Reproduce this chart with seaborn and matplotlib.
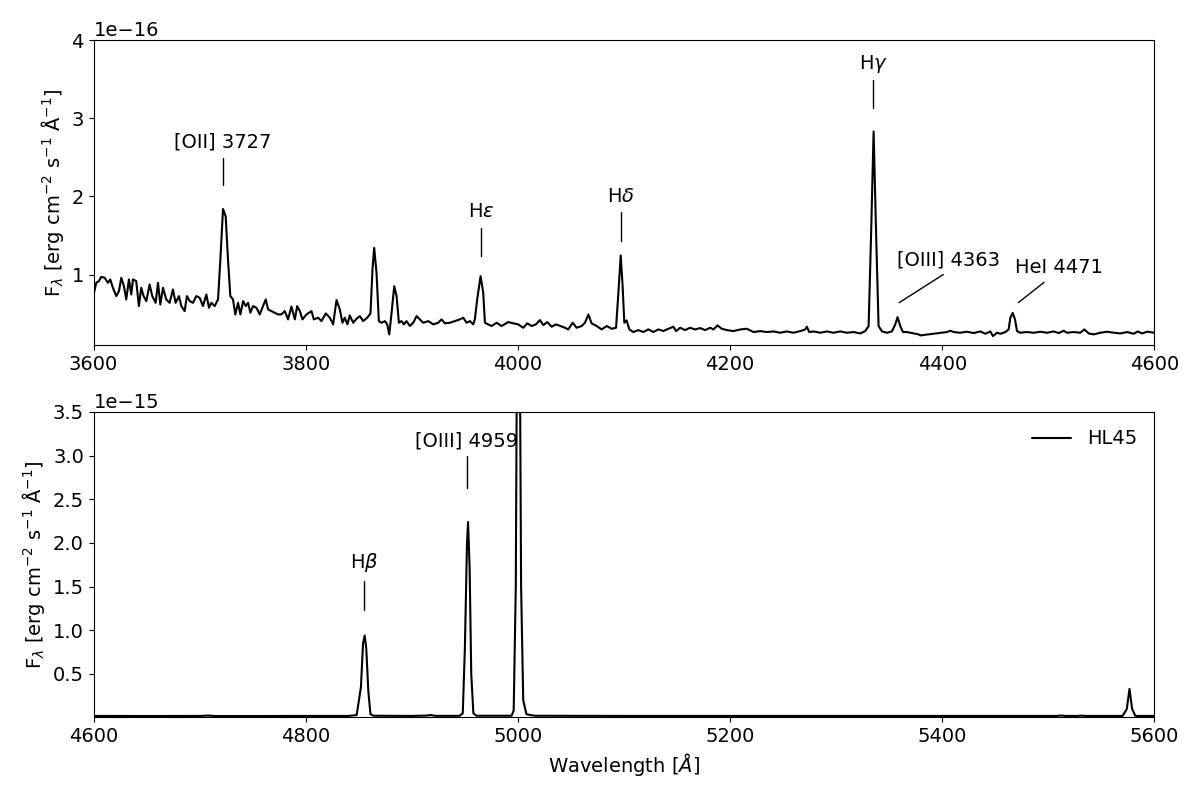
import numpy as np
import pandas as pd
import matplotlib
matplotlib.use("Agg")
import matplotlib.pyplot as plt
import seaborn as sns

# ---------------- data ----------------
# Blue part: wavelength [Angstrom], flux [1e-16 erg cm^-2 s^-1 A^-1]
wave_blue = [
    3600.0, 3602.5, 3605.0, 3607.2, 3610.4, 3613.5, 3615.7, 3618.2, 3621.4, 3623.9,
    3626.1, 3628.6, 3630.8, 3633.3, 3635.5, 3637.1, 3640.2, 3642.7, 3644.9, 3647.1,
    3649.7, 3652.8, 3655.3, 3658.5, 3660.7, 3662.9, 3665.4, 3668.5, 3671.7, 3674.8,
    3677.3, 3680.5, 3682.7, 3685.8, 3688.0, 3690.6, 3693.7, 3696.8, 3700.0, 3703.1,
    3706.3, 3708.8, 3711.0, 3714.1, 3717.3, 3719.5, 3722.0, 3724.5, 3726.7, 3728.9,
    3731.4, 3733.6, 3736.2, 3738.4, 3740.9, 3743.4, 3745.6, 3747.8, 3750.3, 3753.5,
    3756.6, 3759.7, 3762.3, 3764.5, 3767.6, 3770.8, 3773.9, 3777.0, 3780.2, 3783.3,
    3786.5, 3789.7, 3791.9, 3794.4, 3796.9, 3800.7, 3805.4, 3807.6, 3811.7, 3814.8,
    3818.9, 3822.7, 3825.8, 3829.0, 3832.1, 3834.6, 3836.8, 3839.3, 3841.5, 3844.7,
    3847.8, 3851.0, 3854.1, 3857.9, 3861.0, 3862.9, 3864.5, 3866.7, 3868.9, 3871.4,
    3874.6, 3876.8, 3878.7, 3880.9, 3883.4, 3885.6, 3887.8, 3890.3, 3892.5, 3895.0,
    3898.2, 3901.3, 3904.5, 3907.6, 3910.7, 3915.5, 3920.2, 3924.9, 3928.0, 3931.2,
    3935.9, 3940.6, 3945.3, 3948.5, 3951.6, 3954.8, 3957.9, 3959.4, 3961.6, 3964.8,
    3967.3, 3968.9, 3972.0, 3975.1, 3979.9, 3984.6, 3990.9, 3995.6, 4000.3, 4005.0,
    4008.8, 4012.9, 4017.0, 4020.7, 4023.9, 4027.7, 4031.8, 4035.8, 4040.2, 4044.3,
    4047.5, 4051.6, 4055.3, 4060.1, 4063.2, 4066.4, 4069.5, 4074.2, 4078.9, 4083.7,
    4088.4, 4092.5, 4094.7, 4096.9, 4098.7, 4100.3, 4102.5, 4105.0, 4108.8, 4113.5,
    4118.2, 4123.0, 4127.7, 4132.4, 4137.1, 4140.3, 4146.6, 4149.1, 4152.9, 4157.6,
    4162.3, 4167.0, 4171.7, 4176.5, 4181.2, 4184.3, 4188.1, 4192.2, 4196.9, 4203.2,
    4209.5, 4215.8, 4222.1, 4228.4, 4234.6, 4240.9, 4247.2, 4253.5, 4259.8, 4266.1,
    4270.8, 4272.4, 4274.6, 4278.7, 4285.0, 4291.3, 4297.5, 4303.8, 4310.1, 4316.4,
    4322.7, 4327.4, 4330.6, 4332.8, 4335.3, 4337.8, 4340.0, 4343.2, 4347.9, 4352.6,
    4355.7, 4357.9, 4360.4, 4363.0, 4366.7, 4373.0, 4377.7, 4379.3, 4404.4, 4407.6,
    4410.7, 4417.0, 4423.3, 4429.6, 4435.9, 4440.6, 4445.3, 4447.8, 4451.6, 4454.8,
    4459.5, 4462.6, 4464.2, 4466.4, 4468.6, 4470.5, 4473.6, 4479.9, 4486.2, 4492.5,
    4498.8, 4505.1, 4509.8, 4514.5, 4517.6, 4523.9, 4530.2, 4534.0, 4538.1, 4542.8,
    4549.1, 4555.4, 4561.7, 4568.0, 4574.3, 4580.5, 4584.3, 4588.4, 4593.1, 4600.0,
]
flux_blue = [
    0.745, 0.894, 0.915, 0.970, 0.958, 0.894, 0.937, 0.830, 0.724, 0.788,
    0.958, 0.851, 0.681, 0.937, 0.745, 0.937, 0.915, 0.596, 0.830, 0.724,
    0.660, 0.873, 0.724, 0.638, 0.894, 0.617, 0.830, 0.681, 0.638, 0.809,
    0.638, 0.724, 0.596, 0.532, 0.724, 0.660, 0.638, 0.724, 0.702, 0.596,
    0.745, 0.575, 0.638, 0.596, 0.681, 1.192, 1.839, 1.745, 1.192, 0.724,
    0.681, 0.489, 0.638, 0.489, 0.660, 0.596, 0.638, 0.511, 0.596, 0.575,
    0.489, 0.596, 0.681, 0.553, 0.532, 0.511, 0.489, 0.489, 0.532, 0.426,
    0.590, 0.426, 0.596, 0.532, 0.426, 0.489, 0.532, 0.426, 0.447, 0.404,
    0.502, 0.447, 0.362, 0.673, 0.553, 0.383, 0.447, 0.362, 0.477, 0.383,
    0.434, 0.468, 0.404, 0.447, 0.502, 1.064, 1.341, 1.022, 0.404, 0.383,
    0.404, 0.362, 0.234, 0.511, 0.851, 0.724, 0.383, 0.404, 0.362, 0.404,
    0.341, 0.383, 0.468, 0.426, 0.383, 0.404, 0.362, 0.383, 0.426, 0.375,
    0.383, 0.404, 0.426, 0.447, 0.383, 0.404, 0.362, 0.426, 0.681, 0.979,
    0.766, 0.383, 0.362, 0.341, 0.383, 0.341, 0.392, 0.375, 0.362, 0.319,
    0.375, 0.341, 0.362, 0.417, 0.353, 0.392, 0.332, 0.362, 0.341, 0.319,
    0.298, 0.383, 0.319, 0.341, 0.383, 0.489, 0.375, 0.341, 0.298, 0.341,
    0.306, 0.319, 0.766, 1.243, 0.851, 0.383, 0.413, 0.298, 0.264, 0.289,
    0.264, 0.298, 0.264, 0.298, 0.277, 0.297, 0.332, 0.276, 0.319, 0.289,
    0.319, 0.297, 0.315, 0.289, 0.319, 0.297, 0.349, 0.306, 0.289, 0.276,
    0.297, 0.306, 0.264, 0.276, 0.264, 0.272, 0.255, 0.272, 0.255, 0.276,
    0.297, 0.332, 0.264, 0.272, 0.255, 0.272, 0.255, 0.272, 0.255, 0.264,
    0.246, 0.276, 0.340, 1.447, 2.830, 1.447, 0.340, 0.272, 0.255, 0.272,
    0.361, 0.455, 0.340, 0.264, 0.264, 0.246, 0.234, 0.221, 0.264, 0.281,
    0.264, 0.255, 0.268, 0.251, 0.272, 0.242, 0.272, 0.212, 0.255, 0.242,
    0.264, 0.298, 0.447, 0.510, 0.425, 0.276, 0.255, 0.264, 0.255, 0.268,
    0.255, 0.272, 0.251, 0.281, 0.255, 0.264, 0.255, 0.298, 0.246, 0.234,
    0.255, 0.268, 0.255, 0.246, 0.264, 0.242, 0.272, 0.246, 0.268, 0.255,
]

# Red part: wavelength [Angstrom], flux [1e-15 erg cm^-2 s^-1 A^-1]
wave_red = [
    4600, 4650, 4700, 4708, 4715, 4760, 4800, 4840, 4848, 4852,
    4854, 4855.5, 4857, 4859, 4861, 4864, 4900, 4914, 4918, 4922,
    4945, 4948, 4950, 4952, 4953, 4954.5, 4956, 4958, 4961, 4994,
    4996, 4998, 5000, 5001.5, 5003, 5005, 5008, 5010, 5012, 5016,
    5100, 5200, 5300, 5400, 5508, 5512, 5516, 5528, 5531, 5535,
    5570, 5574, 5576.5, 5579, 5582, 5600,
]
flux_red = [
    0.020, 0.019, 0.020, 0.024, 0.019, 0.019, 0.020, 0.020, 0.030, 0.350,
    0.850, 0.940, 0.800, 0.300, 0.040, 0.022, 0.020, 0.024, 0.030, 0.021,
    0.021, 0.050, 0.800, 2.000, 2.240, 1.700, 0.500, 0.050, 0.022, 0.022,
    0.080, 1.500, 6.700, 5.000, 1.500, 0.200, 0.040, 0.035, 0.030, 0.022,
    0.020, 0.020, 0.020, 0.020, 0.020, 0.025, 0.020, 0.020, 0.024, 0.020,
    0.020, 0.100, 0.330, 0.100, 0.020, 0.020,
]

# line labels: (label, wavelength, text y, line bottom, line top) in panel units
blue_labels = [
    ("[OII] 3727", 3722, 2.69, 2.14, 2.49),
    (r"H$\epsilon$", 3965, 1.80, 1.24, 1.60),
    (r"H$\delta$", 4097, 2.00, 1.43, 1.80),
    (r"H$\gamma$", 4335, 3.69, 3.13, 3.49),
]
blue_diag_labels = [
    ("[OIII] 4363", 4359.4, 0.64, 4401, 1.0, 4357, 1.19),
    ("HeI 4471", 4471.7, 0.64, 4496, 0.9, 4469, 1.09),
]
red_labels = [
    (r"H$\beta$", 4855, 1.78, 1.23, 1.56),
    ("[OIII] 4959", 4952, 3.17, 2.63, 2.99),
]

# ---------------- plotting ----------------
sns.set_style("ticks")
FS = 14
plt.rcParams["font.family"] = ["DejaVu Sans"]
plt.rcParams["font.size"] = FS
plt.rcParams["mathtext.fontset"] = "dejavusans"
for key in ("text.color", "axes.labelcolor", "xtick.color", "ytick.color", "axes.edgecolor"):
    plt.rcParams[key] = "black"

df_blue = pd.DataFrame({"wave": wave_blue, "flux": np.array(flux_blue) * 1e-16})
df_red = pd.DataFrame({"wave": wave_red, "flux": np.array(flux_red) * 1e-15})

fig, (ax1, ax2) = plt.subplots(2, 1, figsize=(12, 8), dpi=100)
fig.subplots_adjust(left=0.078, right=0.962, top=0.95, bottom=0.104, hspace=0.22)

sns.lineplot(data=df_blue, x="wave", y="flux", ax=ax1, color="black", lw=1.5,
             sort=False, estimator=None)
sns.lineplot(data=df_red, x="wave", y="flux", ax=ax2, color="black", lw=1.5,
             sort=False, estimator=None, label="HL45")

ylab = r"F$_\lambda$ [erg cm$^{-2}$ s$^{-1}$ Å$^{-1}$]"
for ax in (ax1, ax2):
    ax.set_ylabel(ylab, fontsize=FS, color="black")
    ax.tick_params(labelsize=FS, direction="out", length=3.5, width=0.8,
                   color="black", labelcolor="black")
    for sp in ax.spines.values():
        sp.set_color("black")
        sp.set_linewidth(0.8)
    ax.yaxis.get_offset_text().set_fontsize(FS)
    ax.yaxis.get_offset_text().set_color("black")

ax1.set_xlim(3600, 4600)
ax1.set_ylim(1e-17, 4e-16)
ax1.set_yticks([1e-16, 2e-16, 3e-16, 4e-16])
ax1.set_xlabel("")

ax2.set_xlim(4600, 5600)
ax2.set_ylim(1e-17, 3.5e-15)
ax2.set_yticks([0.5e-15, 1.0e-15, 1.5e-15, 2.0e-15, 2.5e-15, 3.0e-15, 3.5e-15])
ax2.set_xlabel(r"Wavelength [$\AA$]", fontsize=FS, color="black")

leg = ax2.legend(loc="upper right", frameon=False, fontsize=FS)
for t in leg.get_texts():
    t.set_color("black")

for lab, x, ty, y0, y1 in blue_labels:
    ax1.plot([x, x], [y0 * 1e-16, y1 * 1e-16], color="black", lw=1)
    ax1.text(x, ty * 1e-16, lab, ha="center", va="center", fontsize=FS, color="black")
for lab, x0, y0, x1, y1, tx, ty in blue_diag_labels:
    ax1.plot([x0, x1], [y0 * 1e-16, y1 * 1e-16], color="black", lw=1)
    ax1.text(tx, ty * 1e-16, lab, ha="left", va="center", fontsize=FS, color="black")
for lab, x, ty, y0, y1 in red_labels:
    ax2.plot([x, x], [y0 * 1e-15, y1 * 1e-15], color="black", lw=1)
    ax2.text(x, ty * 1e-15, lab, ha="center", va="center", fontsize=FS, color="black")

fig.savefig("out.png", dpi=100)
